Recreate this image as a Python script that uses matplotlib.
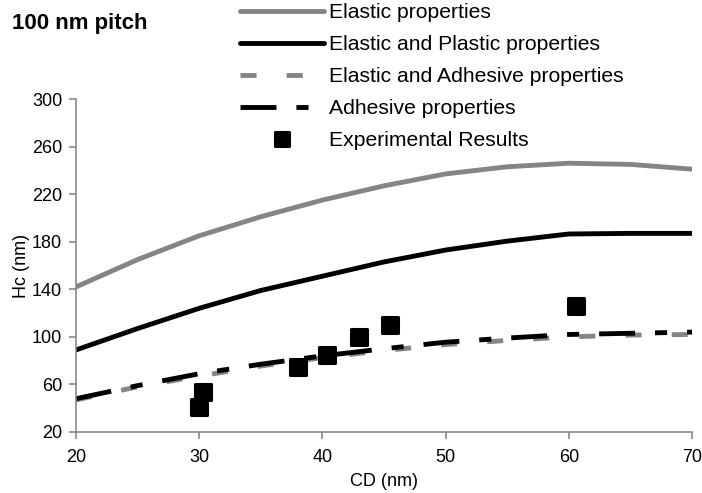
import matplotlib
matplotlib.use('Agg')
from matplotlib import pyplot as plt
from matplotlib.markers import MarkerStyle

# values
cd = [20, 25, 30, 35, 40, 45, 50, 55, 60, 65, 70]
elastic = [142, 165, 185, 201, 215, 227, 237, 243, 246, 245, 241]
elastic_plastic = [89, 107, 124, 139, 151, 163, 173, 180.5, 186.5, 187, 187]
elastic_adhesive = [47, 58, 67, 75.5, 82.5, 88.5, 93.5, 97, 100, 101.5, 102]
adhesive = [48, 59, 69, 77, 84, 90, 95.5, 99, 102, 103, 104]

exp_cd = [30, 30.3, 38, 40.4, 43, 45.5, 60.6]
exp_hc = [41, 54, 75, 85, 100, 110, 126]

labels = ['Elastic properties', 'Elastic and Plastic properties',
          'Elastic and Adhesive properties', 'Adhesive properties',
          'Experimental Results']

plt.rcParams['font.family'] = ['Liberation Sans', 'DejaVu Sans']
grey = '#858585'
axgrey = '#808080'

fig = plt.figure(figsize=(7.02, 4.93), dpi=100)
ax = fig.add_axes([76 / 702, 1 - 432 / 493, 616 / 702, 333 / 493])

lw = 3.5
l1, = ax.plot(cd, elastic, color=grey, lw=lw, solid_capstyle='round', label=labels[0])
l2, = ax.plot(cd, elastic_plastic, color='black', lw=lw, solid_capstyle='round', label=labels[1])
l3, = ax.plot(cd, elastic_adhesive, color=grey, lw=lw, dashes=(3.3, 6.2), label=labels[2])
l4, = ax.plot(cd, adhesive, color='black', lw=lw, dashes=(7.4, 4.1, 2.5, 4.1), label=labels[3])
sq = MarkerStyle('s', joinstyle='round')
l5, = ax.plot(exp_cd, exp_hc, ls='none', marker=sq, ms=11.5, mew=2.2,
              mfc='black', mec='black', label=labels[4])

ax.set_xlim(20, 70)
ax.set_ylim(20, 300)
ax.set_xticks(range(20, 71, 10))
ax.set_yticks(range(20, 301, 40))
for side in ['top', 'right']:
    ax.spines[side].set_visible(False)
for side in ['left', 'bottom']:
    ax.spines[side].set_color(axgrey)
    ax.spines[side].set_linewidth(1.1)
ax.tick_params(axis='both', colors=axgrey, labelcolor='black', labelsize=13,
               length=5, width=1.1, direction='out')
ax.tick_params(axis='x', pad=7)
ax.tick_params(axis='y', pad=5)
ax.set_xlabel('CD (nm)', fontsize=13, labelpad=5)
ax.set_ylabel('Hc (nm)', fontsize=13, labelpad=1)

fig.text(12 / 702, 1 - 24 / 493, '100 nm pitch', fontsize=16, fontweight='bold',
         ha='left', va='center')

fig.legend(handles=[l1, l2, l3, l4, l5], loc='upper left',
           bbox_to_anchor=(240 / 702, 1 - 3 / 493), frameon=False,
           fontsize=15.2, handlelength=4.0, handletextpad=0.2, labelspacing=0.62,
           borderpad=0, borderaxespad=0, markerscale=0.82)

fig.savefig('out.png', dpi=100)
